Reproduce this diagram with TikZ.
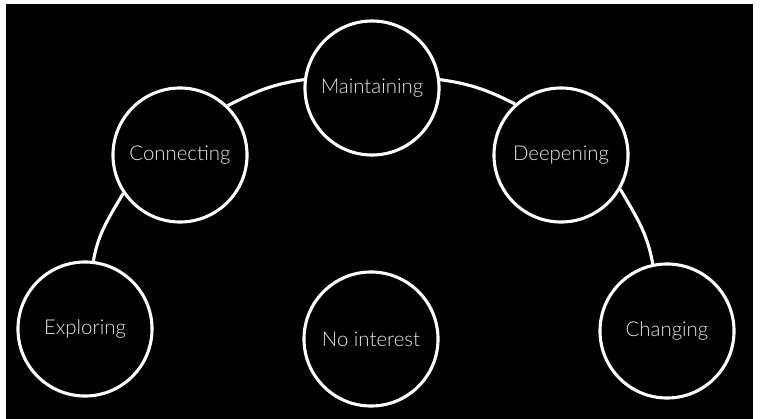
\documentclass[tikz,border=0pt]{standalone}
\usepackage{fontspec}
\setmainfont{Lato}[UprightFont=* Light]
\usepackage{xcolor}
\definecolor{labelgray}{HTML}{E8E8E8}

\begin{document}
\begin{tikzpicture}[x=0.025cm, y=-0.025cm,
  stage/.style={circle, draw=white, fill=black, line width=2.2pt,
    minimum size=3.35cm, inner sep=0pt, text=labelgray,
    font=\fontsize{14.5}{16}\selectfont},
  link/.style={draw=white, line width=2.2pt}]
\useasboundingbox (0,0) rectangle (760,419);
\fill[black] (6,4) rectangle (753,419);

\node[stage] (maintain) at (372,88) {Maintaining};
\node[stage] (connect) at (180,155) {Connecting};
\node[stage] (deepen) at (561,155) {Deepening};
\node[stage] (explore) at (85,329) {Exploring};
\node[stage] (nointerest) at (371,339) {No interest};
\node[stage] (change) at (667,331) {Changing};

\draw[link] (explore.83) to[out=80, in=240] (connect.214);
\draw[link] (connect.46) to[out=27, in=188] (maintain.173);
\draw[link] (maintain.7) to[out=-8, in=153] (deepen.132);
\draw[link] (deepen.330) to[out=-60, in=100] (change.102);
\end{tikzpicture}
\end{document}
